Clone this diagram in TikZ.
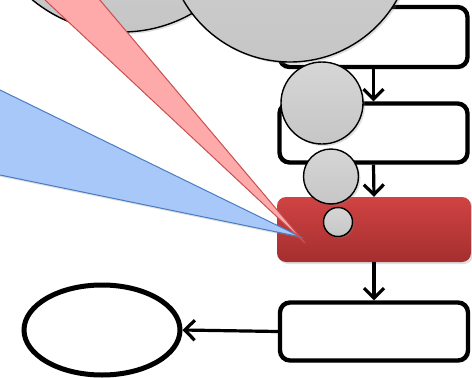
\documentclass[tikz,border=0pt]{standalone}
\usetikzlibrary{arrows.meta,shapes.geometric,shadows}
\definecolor{redtop}{HTML}{D04343}
\definecolor{redbot}{HTML}{A52E2E}
\definecolor{pinkfill}{HTML}{FFAAAA}
\definecolor{pinkline}{HTML}{C85050}
\definecolor{bluefill}{HTML}{A8C8FA}
\definecolor{blueline}{HTML}{4A7CC0}
\definecolor{balltop}{HTML}{D6D6D6}
\definecolor{ballbot}{HTML}{C6C6C6}
\begin{document}
\begin{tikzpicture}[x=1pt,y=-1pt,
  softshadow/.style={drop shadow={opacity=0.25,shadow xshift=2pt,shadow yshift=-2pt}},
  flowbox/.style={draw=black,line width=4.4pt,rounded corners=10pt,fill=white,
    minimum width=188pt,minimum height=60pt,inner sep=0pt,softshadow},
  hotbox/.style={rounded corners=9pt,top color=redtop,bottom color=redbot,
    minimum width=194pt,minimum height=65pt,inner sep=0pt,softshadow},
  ball/.style={circle,draw=black,line width=1.4pt,top color=balltop,bottom color=ballbot,
    inner sep=0pt,softshadow},
  flow/.style={line width=3.2pt,-{Straight Barb[length=10pt,width=20pt,line width=3.2pt]}},
  wedge/.style={line width=1pt,line join=miter}
]
\useasboundingbox (0,0) rectangle (472,378);
\clip (0,0) rectangle (472,378);

% flow boxes
\node[flowbox] (b1) at (373.5,37) {};
\node[flowbox,minimum height=59pt] (b2) at (373.5,133) {};
\node[hotbox] (b3) at (374,229.5) {};
\node[flowbox,minimum height=58pt] (b4) at (374,331.5) {};

% terminal oval
\node[ellipse,draw=black,line width=5pt,fill=white,minimum width=156pt,
  minimum height=90pt,inner sep=0pt] (oval) at (102,330) {};

% connectors
\draw[flow] (b1.south) -- (b2.north);
\draw[flow] (b2.south) -- (b3.north);
\draw[flow] (b3.south) -- (b4.north);
\draw[flow] (b4.west) -- (oval.east);

% grey balls
\node[ball,minimum size=282pt] (ballA) at (122,-109) {};
\node[ball,minimum size=246pt] (ballB) at (290,-61) {};
\node[ball,minimum size=82pt] (ballC) at (322,103) {};
\node[ball,minimum size=55pt] (ballD) at (331,176.5) {};
\node[ball,minimum size=29pt] (ballE) at (338,222) {};

% beams meeting in the red box
\coordinate (tipB) at (301,237);
\coordinate (tipP) at (305,243);
\filldraw[wedge,fill=bluefill,draw=blueline,softshadow] (-20,80.2) -- (tipB) -- (-20,170.9) -- cycle;
\filldraw[wedge,fill=pinkfill,draw=pinkline,softshadow] (23.6,-20) -- (tipP) -- (83,-20) -- cycle;
\end{tikzpicture}
\end{document}
